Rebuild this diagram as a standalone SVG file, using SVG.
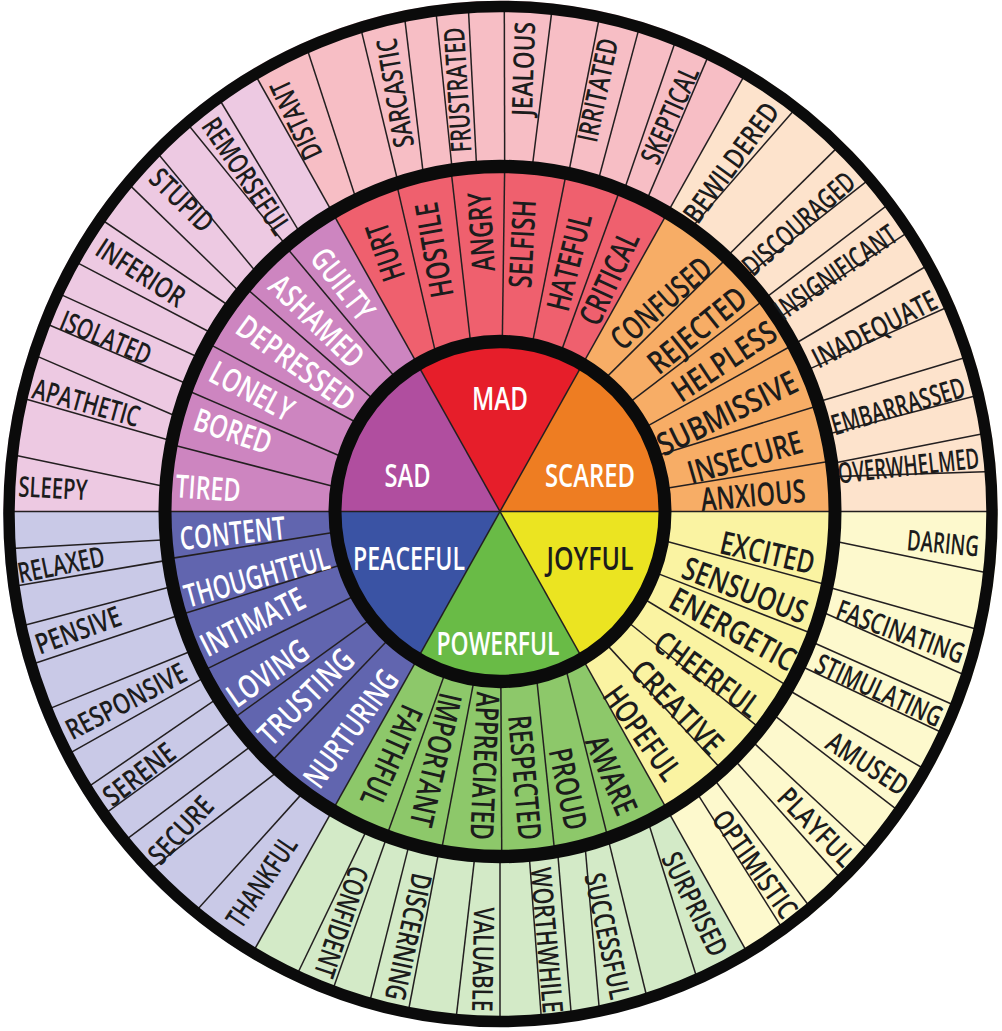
<svg xmlns="http://www.w3.org/2000/svg" width="1002" height="1031" viewBox="0 0 1002 1031">
<defs>
<style>
.ln{stroke:#231f20;stroke-width:1.5;fill:none}
.ring{fill:none;stroke:#0b0b0b}
text{font-family:"Open Sans","Noto Sans","DejaVu Sans Condensed",sans-serif;text-anchor:middle;fill:#1c1c1c;font-weight:600}
.c{font-size:33px}
.m{font-size:32px}
.o{font-size:28.5px}
.w{fill:#fff}
</style>
</defs>
<rect width="1002" height="1031" fill="#fff"/>
<g id="sectors" transform="translate(500 511.5) scale(1 1.03)">
<path d="M0,0 L500,0 A500,500 0 0 0 250,-433.01 Z" fill="#fde3cc"/>
<path d="M0,0 L250,-433.01 A500,500 0 0 0 -250,-433.01 Z" fill="#f7bec5"/>
<path d="M0,0 L-250,-433.01 A500,500 0 0 0 -500,0 Z" fill="#edc9e2"/>
<path d="M0,0 L-500,0 A500,500 0 0 0 -250,433.01 Z" fill="#c9c9e7"/>
<path d="M0,0 L-250,433.01 A500,500 0 0 0 250,433.01 Z" fill="#d3eac7"/>
<path d="M0,0 L250,433.01 A500,500 0 0 0 500,0 Z" fill="#fdf9cd"/>
<path d="M0,0 L335,0 A335,335 0 0 0 167.5,-290.11 Z" fill="#f7ad66"/>
<path d="M0,0 L167.5,-290.11 A335,335 0 0 0 -167.5,-290.11 Z" fill="#ef606e"/>
<path d="M0,0 L-167.5,-290.11 A335,335 0 0 0 -335,0 Z" fill="#cd85c0"/>
<path d="M0,0 L-335,0 A335,335 0 0 0 -167.5,290.11 Z" fill="#6165af"/>
<path d="M0,0 L-167.5,290.11 A335,335 0 0 0 167.5,290.11 Z" fill="#8dc86a"/>
<path d="M0,0 L167.5,290.11 A335,335 0 0 0 335,0 Z" fill="#faf3a2"/>
</g>
<g id="node-scared"><path transform="translate(500 511.5) scale(1 1.03)" d="M0,0 L165,0 A165,165 0 0 0 82.5,-142.89 Z" fill="#ee7d22"/><text class="c w" x="590" y="487" textLength="90" lengthAdjust="spacingAndGlyphs">SCARED</text></g>
<g id="node-mad"><path transform="translate(500 511.5) scale(1 1.03)" d="M0,0 L82.5,-142.89 A165,165 0 0 0 -82.5,-142.89 Z" fill="#e61e2a"/><text class="c w" x="500" y="410" textLength="56" lengthAdjust="spacingAndGlyphs">MAD</text></g>
<g id="node-sad"><path transform="translate(500 511.5) scale(1 1.03)" d="M0,0 L-82.5,-142.89 A165,165 0 0 0 -165,0 Z" fill="#b04e9f"/><text class="c w" x="407.5" y="487" textLength="46" lengthAdjust="spacingAndGlyphs">SAD</text></g>
<g id="node-peaceful"><path transform="translate(500 511.5) scale(1 1.03)" d="M0,0 L-165,0 A165,165 0 0 0 -82.5,142.89 Z" fill="#3a53a4"/><text class="c w" x="409" y="570" textLength="112" lengthAdjust="spacingAndGlyphs">PEACEFUL</text></g>
<g id="node-powerful"><path transform="translate(500 511.5) scale(1 1.03)" d="M0,0 L-82.5,142.89 A165,165 0 0 0 82.5,142.89 Z" fill="#69bb46"/><text class="c w" x="498" y="655" textLength="123" lengthAdjust="spacingAndGlyphs">POWERFUL</text></g>
<g id="node-joyful"><path transform="translate(500 511.5) scale(1 1.03)" d="M0,0 L82.5,142.89 A165,165 0 0 0 165,0 Z" fill="#ebe421"/><text class="c" x="590" y="570" textLength="87" lengthAdjust="spacingAndGlyphs">JOYFUL</text></g>
<g id="connectors" class="ln" transform="translate(500 511.5) scale(1 1.03)">
<line x1="-494" x2="494"/>
<line x1="-494" x2="494" transform="rotate(-60)"/>
<line x1="-494" x2="494" transform="rotate(-120)"/>
<line transform="rotate(-171.8)" x1="165" x2="334.5" y2="17.5"/>
<line transform="rotate(-161.5)" x1="165" x2="334.8" y2="12.3"/>
<line transform="rotate(-148.9)" x1="165" x2="334.8" y2="-11.1"/>
<line transform="rotate(-139.3)" x1="165" x2="335" y2="-1.2"/>
<line transform="rotate(-128.8)" x1="165" x2="334.9" y2="-5.8"/>
<line transform="rotate(-112.8)" x1="165" x2="333.8" y2="28"/>
<line transform="rotate(-100.2)" x1="165" x2="334.8" y2="10.5"/>
<line transform="rotate(-89.2)" x1="165" x2="335" y2="0"/>
<line transform="rotate(-78.8)" x1="165" x2="335" y2="1.2"/>
<line transform="rotate(-68.5)" x1="165" x2="335" y2="-2.9"/>
<line transform="rotate(-50.9)" x1="165" x2="334.3" y2="21"/>
<line transform="rotate(-39.3)" x1="165" x2="334.9" y2="8.2"/>
<line transform="rotate(-29.4)" x1="165" x2="335" y2="2.9"/>
<line transform="rotate(-19.1)" x1="165" x2="334.9" y2="7"/>
<line transform="rotate(-7.7)" x1="165" x2="335" y2="-4.1"/>
<line transform="rotate(9.7)" x1="165" x2="334.7" y2="15.2"/>
<line transform="rotate(20.9)" x1="165" x2="335" y2="-0.6"/>
<line transform="rotate(30.5)" x1="165" x2="335" y2="0"/>
<line transform="rotate(40)" x1="165" x2="334.9" y2="-5.8"/>
<line transform="rotate(50.5)" x1="165" x2="334.8" y2="-11.7"/>
<line transform="rotate(66.6)" x1="165" x2="333.9" y2="26.9"/>
<line transform="rotate(77.2)" x1="165" x2="334.4" y2="19.9"/>
<line transform="rotate(89.7)" x1="165" x2="335" y2="0"/>
<line transform="rotate(99)" x1="165" x2="334.9" y2="6.4"/>
<line transform="rotate(109.3)" x1="165" x2="335" y2="2.9"/>
<line transform="rotate(173.1)" x1="165" x2="334.9" y2="-5.8"/>
<line transform="rotate(161.9)" x1="165" x2="334.9" y2="4.1"/>
<line transform="rotate(150.6)" x1="165" x2="334.8" y2="11.1"/>
<line transform="rotate(141)" x1="165" x2="334.8" y2="11.7"/>
<line transform="rotate(131.9)" x1="165" x2="334.9" y2="8.2"/>
<line transform="rotate(-175.9)" x1="335" x2="493.6" y2="20.7"/>
<line transform="rotate(-168.2)" x1="335" x2="493.9" y2="10.3"/>
<line transform="rotate(-164.1)" x1="335" x2="493.6" y2="19"/>
<line transform="rotate(-158.4)" x1="335" x2="494" y2="2.6"/>
<line transform="rotate(-153.6)" x1="335" x2="494" y2="-6.9"/>
<line transform="rotate(-149)" x1="335" x2="493.9" y2="-11.2"/>
<line transform="rotate(-143.6)" x1="335" x2="493.9" y2="-8.6"/>
<line transform="rotate(-140.7)" x1="335" x2="493.9" y2="11.2"/>
<line transform="rotate(-136.4)" x1="335" x2="493.7" y2="16.4"/>
<line transform="rotate(-129.6)" x1="335" x2="494" y2="-0.9"/>
<line transform="rotate(-126.5)" x1="335" x2="493.8" y2="12.9"/>
<line transform="rotate(-115.4)" x1="335" x2="493.6" y2="19"/>
<line transform="rotate(-107.7)" x1="335" x2="493.9" y2="10.3"/>
<line transform="rotate(-103.2)" x1="335" x2="493.7" y2="17.2"/>
<line transform="rotate(-98.2)" x1="335" x2="494" y2="6"/>
<line transform="rotate(-94)" x1="335" x2="494" y2="2.6"/>
<line transform="rotate(-89.2)" x1="335" x2="494" y2="-2.6"/>
<line transform="rotate(-84.5)" x1="335" x2="494" y2="5.2"/>
<line transform="rotate(-78.2)" x1="335" x2="494" y2="-0.9"/>
<line transform="rotate(-73)" x1="335" x2="494" y2="-4.3"/>
<line transform="rotate(-68.3)" x1="335" x2="494" y2="-6"/>
<line transform="rotate(-64.1)" x1="335" x2="494" y2="-6"/>
<line transform="rotate(-55.2)" x1="335" x2="493.6" y2="19.8"/>
<line transform="rotate(-47.5)" x1="335" x2="493.9" y2="10.3"/>
<line transform="rotate(-42.9)" x1="335" x2="493.8" y2="15.5"/>
<line transform="rotate(-38)" x1="335" x2="494" y2="4.3"/>
<line transform="rotate(-34)" x1="335" x2="494" y2="3.4"/>
<line transform="rotate(-28.9)" x1="335" x2="494" y2="-2.6"/>
<line transform="rotate(-24.1)" x1="335" x2="494" y2="1.7"/>
<line transform="rotate(-18.5)" x1="335" x2="494" y2="6"/>
<line transform="rotate(-12.9)" x1="335" x2="494" y2="-3.4"/>
<line transform="rotate(-8)" x1="335" x2="493.9" y2="-7.8"/>
<line transform="rotate(-5.8)" x1="335" x2="493.9" y2="11.2"/>
<line transform="rotate(4.9)" x1="335" x2="493.7" y2="18.1"/>
<line transform="rotate(12.6)" x1="335" x2="493.9" y2="7.8"/>
<line transform="rotate(16.8)" x1="335" x2="493.7" y2="18.1"/>
<line transform="rotate(22.1)" x1="335" x2="494" y2="3.4"/>
<line transform="rotate(26.5)" x1="335" x2="494" y2="-5.2"/>
<line transform="rotate(31)" x1="335" x2="494" y2="-4.3"/>
<line transform="rotate(35.8)" x1="335" x2="494" y2="2.6"/>
<line transform="rotate(41.5)" x1="335" x2="494" y2="1.7"/>
<line transform="rotate(45.8)" x1="335" x2="494" y2="4.3"/>
<line transform="rotate(50.5)" x1="335" x2="494" y2="5.2"/>
<line transform="rotate(54.2)" x1="335" x2="493.9" y2="7.8"/>
<line transform="rotate(63.8)" x1="335" x2="493.5" y2="23.3"/>
<line transform="rotate(71.2)" x1="335" x2="493.8" y2="12.9"/>
<line transform="rotate(75.3)" x1="335" x2="493.3" y2="26.7"/>
<line transform="rotate(80.1)" x1="335" x2="493.8" y2="13.8"/>
<line transform="rotate(85)" x1="335" x2="494" y2="1.7"/>
<line transform="rotate(90)" x1="335" x2="494" y2="0"/>
<line transform="rotate(94.3)" x1="335" x2="494" y2="6.9"/>
<line transform="rotate(100.5)" x1="335" x2="494" y2="1.7"/>
<line transform="rotate(105.7)" x1="335" x2="494" y2="-3.4"/>
<line transform="rotate(109.7)" x1="335" x2="494" y2="0.9"/>
<line transform="rotate(113.3)" x1="335" x2="493.9" y2="8.6"/>
<line transform="rotate(125.8)" x1="335" x2="493.6" y2="19.8"/>
<line transform="rotate(131.3)" x1="335" x2="492.9" y2="33.6"/>
<line transform="rotate(137.5)" x1="335" x2="493.7" y2="18.1"/>
<line transform="rotate(142.7)" x1="335" x2="494" y2="6"/>
<line transform="rotate(147.3)" x1="335" x2="494" y2="-2.6"/>
<line transform="rotate(151.4)" x1="335" x2="494" y2="0"/>
<line transform="rotate(156.3)" x1="335" x2="494" y2="6"/>
<line transform="rotate(162.6)" x1="335" x2="494" y2="-1.7"/>
<line transform="rotate(167.5)" x1="335" x2="494" y2="-5.2"/>
<line transform="rotate(171.9)" x1="335" x2="494" y2="-3.4"/>
<line transform="rotate(175.3)" x1="335" x2="494" y2="4.3"/>
</g>
<path id="outside" fill="#fff" fill-rule="evenodd" d="M0,0 H1002 V1031 H0 Z M3.25,514 A497.25,513.25 0 1 0 997.75,514 A497.25,513.25 0 1 0 3.25,514 Z"/>
<g id="rings">
<ellipse class="ring" cx="500.5" cy="514" rx="491.5" ry="507.5" stroke-width="11.5"/>
<g transform="translate(500 511.5) scale(1 1.03)">
<circle class="ring" r="335" stroke-width="13"/>
<circle class="ring" r="165" stroke-width="13"/>
</g>
</g>
<g id="sad-words">
<g id="w-guilty"><text class="m w" transform="translate(343 284) rotate(52)" dy="0.36em" textLength="82" lengthAdjust="spacingAndGlyphs">GUILTY</text></g>
<g id="w-ashamed"><text class="m w" transform="translate(317 321) rotate(44)" dy="0.36em" textLength="118" lengthAdjust="spacingAndGlyphs">ASHAMED</text></g>
<g id="w-depressed"><text class="m w" transform="translate(296 363) rotate(36)" dy="0.36em" textLength="138" lengthAdjust="spacingAndGlyphs">DEPRESSED</text></g>
<g id="w-lonely"><text class="m w" transform="translate(252 391) rotate(28)" dy="0.36em" textLength="90" lengthAdjust="spacingAndGlyphs">LONELY</text></g>
<g id="w-bored"><text class="m w" transform="translate(233 431) rotate(18.5)" dy="0.36em" textLength="80" lengthAdjust="spacingAndGlyphs">BORED</text></g>
<g id="w-tired"><text class="m w" transform="translate(208 488) rotate(4)" dy="0.36em" textLength="65" lengthAdjust="spacingAndGlyphs">TIRED</text></g>
<g id="w-sleepy"><text class="o" transform="translate(53 488) rotate(3)" dy="0.36em" textLength="69" lengthAdjust="spacingAndGlyphs">SLEEPY</text></g>
<g id="w-apathetic"><text class="o" transform="translate(86.5 402.5) rotate(15.5)" dy="0.36em" textLength="110" lengthAdjust="spacingAndGlyphs">APATHETIC</text></g>
<g id="w-isolated"><text class="o" transform="translate(106 337.5) rotate(22.5)" dy="0.36em" textLength="96" lengthAdjust="spacingAndGlyphs">ISOLATED</text></g>
<g id="w-inferior"><text class="o" transform="translate(141 272.5) rotate(33)" dy="0.36em" textLength="100" lengthAdjust="spacingAndGlyphs">INFERIOR</text></g>
<g id="w-stupid"><text class="o" transform="translate(182 200) rotate(44.5)" dy="0.36em" textLength="77" lengthAdjust="spacingAndGlyphs">STUPID</text></g>
<g id="w-remorseful"><text class="o" transform="translate(246.5 176) rotate(56)" dy="0.36em" textLength="134" lengthAdjust="spacingAndGlyphs">REMORSEFUL</text></g>
</g>
<g id="mad-words">
<g id="w-hurt"><text class="m" transform="translate(385 252) rotate(-109)" dy="0.36em" textLength="59" lengthAdjust="spacingAndGlyphs">HURT</text></g>
<g id="w-hostile"><text class="m" transform="translate(434 250) rotate(-100)" dy="0.36em" textLength="96" lengthAdjust="spacingAndGlyphs">HOSTILE</text></g>
<g id="w-angry"><text class="m" transform="translate(481 232) rotate(-93.6)" dy="0.36em" textLength="79" lengthAdjust="spacingAndGlyphs">ANGRY</text></g>
<g id="w-selfish"><text class="m" transform="translate(522 244) rotate(-87)" dy="0.36em" textLength="88" lengthAdjust="spacingAndGlyphs">SELFISH</text></g>
<g id="w-hateful"><text class="m" transform="translate(569 262) rotate(-76)" dy="0.36em" textLength="99" lengthAdjust="spacingAndGlyphs">HATEFUL</text></g>
<g id="w-critical"><text class="m" transform="translate(609 278) rotate(-65)" dy="0.36em" textLength="99" lengthAdjust="spacingAndGlyphs">CRITICAL</text></g>
<g id="w-distant"><text class="o" transform="translate(296 120) rotate(-115)" dy="0.36em" textLength="84" lengthAdjust="spacingAndGlyphs">DISTANT</text></g>
<g id="w-sarcastic"><text class="o" transform="translate(395 93) rotate(-99.5)" dy="0.36em" textLength="110" lengthAdjust="spacingAndGlyphs">SARCASTIC</text></g>
<g id="w-frustrated"><text class="o" transform="translate(457.5 90) rotate(-93.5)" dy="0.36em" textLength="125" lengthAdjust="spacingAndGlyphs">FRUSTRATED</text></g>
<g id="w-jealous"><text class="o" transform="translate(523.3 69) rotate(-88)" dy="0.36em" textLength="94" lengthAdjust="spacingAndGlyphs">JEALOUS</text></g>
<g id="w-irritated"><text class="o" transform="translate(597.5 90) rotate(-78)" dy="0.36em" textLength="105" lengthAdjust="spacingAndGlyphs">IRRITATED</text></g>
<g id="w-skeptical"><text class="o" transform="translate(669.5 115) rotate(-66)" dy="0.36em" textLength="103" lengthAdjust="spacingAndGlyphs">SKEPTICAL</text></g>
</g>
<g id="scared-words">
<g id="w-confused"><text class="m" transform="translate(661 303) rotate(-41)" dy="0.36em" textLength="122" lengthAdjust="spacingAndGlyphs">CONFUSED</text></g>
<g id="w-rejected"><text class="m" transform="translate(697 330) rotate(-39)" dy="0.36em" textLength="117" lengthAdjust="spacingAndGlyphs">REJECTED</text></g>
<g id="w-helpless"><text class="m" transform="translate(724 361) rotate(-33.6)" dy="0.36em" textLength="118" lengthAdjust="spacingAndGlyphs">HELPLESS</text></g>
<g id="w-submissive"><text class="m" transform="translate(727 413) rotate(-26)" dy="0.36em" textLength="152" lengthAdjust="spacingAndGlyphs">SUBMISSIVE</text></g>
<g id="w-insecure"><text class="m" transform="translate(745 457) rotate(-16)" dy="0.36em" textLength="118" lengthAdjust="spacingAndGlyphs">INSECURE</text></g>
<g id="w-anxious"><text class="m" transform="translate(753 495) rotate(-5)" dy="0.36em" textLength="105" lengthAdjust="spacingAndGlyphs">ANXIOUS</text></g>
<g id="w-bewildered"><text class="o" transform="translate(731 162.5) rotate(-54)" dy="0.36em" textLength="141" lengthAdjust="spacingAndGlyphs">BEWILDERED</text></g>
<g id="w-discouraged"><text class="o" transform="translate(798.5 223.5) rotate(-41.5)" dy="0.36em" textLength="140" lengthAdjust="spacingAndGlyphs">DISCOURAGED</text></g>
<g id="w-insignificant"><text class="o" transform="translate(835.5 272) rotate(-35)" dy="0.36em" textLength="142" lengthAdjust="spacingAndGlyphs">INSIGNIFICANT</text></g>
<g id="w-inadequate"><text class="o" transform="translate(874.5 329) rotate(-27)" dy="0.36em" textLength="136" lengthAdjust="spacingAndGlyphs">INADEQUATE</text></g>
<g id="w-embarrassed"><text class="o" transform="translate(898 406) rotate(-16.5)" dy="0.36em" textLength="138" lengthAdjust="spacingAndGlyphs">EMBARRASSED</text></g>
<g id="w-overwhelmed"><text class="o" transform="translate(908.5 465.5) rotate(-6.3)" dy="0.36em" textLength="142" lengthAdjust="spacingAndGlyphs">OVERWHELMED</text></g>
</g>
<g id="joyful-words">
<g id="w-excited"><text class="m" transform="translate(767.5 552.5) rotate(13)" dy="0.36em" textLength="96" lengthAdjust="spacingAndGlyphs">EXCITED</text></g>
<g id="w-sensuous"><text class="m" transform="translate(745 590) rotate(21)" dy="0.36em" textLength="131" lengthAdjust="spacingAndGlyphs">SENSUOUS</text></g>
<g id="w-energetic"><text class="m" transform="translate(733 629) rotate(28.5)" dy="0.36em" textLength="138" lengthAdjust="spacingAndGlyphs">ENERGETIC</text></g>
<g id="w-cheerful"><text class="m" transform="translate(707.5 674) rotate(36)" dy="0.36em" textLength="122" lengthAdjust="spacingAndGlyphs">CHEERFUL</text></g>
<g id="w-creative"><text class="m" transform="translate(677.5 707) rotate(46)" dy="0.36em" textLength="117" lengthAdjust="spacingAndGlyphs">CREATIVE</text></g>
<g id="w-hopeful"><text class="m" transform="translate(642.5 733) rotate(54)" dy="0.36em" textLength="108" lengthAdjust="spacingAndGlyphs">HOPEFUL</text></g>
<g id="w-daring"><text class="o" transform="translate(943 543) rotate(5)" dy="0.36em" textLength="72" lengthAdjust="spacingAndGlyphs">DARING</text></g>
<g id="w-fascinating"><text class="o" transform="translate(900.5 631.5) rotate(20)" dy="0.36em" textLength="134" lengthAdjust="spacingAndGlyphs">FASCINATING</text></g>
<g id="w-stimulating"><text class="o" transform="translate(879 690) rotate(24.5)" dy="0.36em" textLength="136" lengthAdjust="spacingAndGlyphs">STIMULATING</text></g>
<g id="w-amused"><text class="o" transform="translate(867.5 763.5) rotate(33)" dy="0.36em" textLength="91" lengthAdjust="spacingAndGlyphs">AMUSED</text></g>
<g id="w-playful"><text class="o" transform="translate(816.5 827) rotate(46)" dy="0.36em" textLength="97" lengthAdjust="spacingAndGlyphs">PLAYFUL</text></g>
<g id="w-optimistic"><text class="o" transform="translate(755 864) rotate(54.6)" dy="0.36em" textLength="125" lengthAdjust="spacingAndGlyphs">OPTIMISTIC</text></g>
</g>
<g id="powerful-words">
<g id="w-aware"><text class="m" transform="translate(611.7 775) rotate(66.5)" dy="0.36em" textLength="83" lengthAdjust="spacingAndGlyphs">AWARE</text></g>
<g id="w-proud"><text class="m" transform="translate(568.3 789) rotate(78)" dy="0.36em" textLength="83" lengthAdjust="spacingAndGlyphs">PROUD</text></g>
<g id="w-respected"><text class="m" transform="translate(525 777.5) rotate(85)" dy="0.36em" textLength="125" lengthAdjust="spacingAndGlyphs">RESPECTED</text></g>
<g id="w-appreciated"><text class="m" transform="translate(485 766) rotate(92.5)" dy="0.36em" textLength="148" lengthAdjust="spacingAndGlyphs">APPRECIATED</text></g>
<g id="w-important"><text class="m" transform="translate(436 760) rotate(103)" dy="0.36em" textLength="136" lengthAdjust="spacingAndGlyphs">IMPORTANT</text></g>
<g id="w-faithful"><text class="m" transform="translate(391.7 756) rotate(114)" dy="0.36em" textLength="107" lengthAdjust="spacingAndGlyphs">FAITHFUL</text></g>
<g id="w-surprised"><text class="o" transform="translate(695 904) rotate(63.5)" dy="0.36em" textLength="112" lengthAdjust="spacingAndGlyphs">SURPRISED</text></g>
<g id="w-successful"><text class="o" transform="translate(607.5 936) rotate(78)" dy="0.36em" textLength="128" lengthAdjust="spacingAndGlyphs">SUCCESSFUL</text></g>
<g id="w-worthwhile"><text class="o" transform="translate(547 940) rotate(85)" dy="0.36em" textLength="146" lengthAdjust="spacingAndGlyphs">WORTHWHILE</text></g>
<g id="w-valuable"><text class="o" transform="translate(483.3 959.5) rotate(91)" dy="0.36em" textLength="104" lengthAdjust="spacingAndGlyphs">VALUABLE</text></g>
<g id="w-discerning"><text class="o" transform="translate(408.5 937) rotate(102.5)" dy="0.36em" textLength="129" lengthAdjust="spacingAndGlyphs">DISCERNING</text></g>
<g id="w-confident"><text class="o" transform="translate(341.5 922) rotate(108.5)" dy="0.36em" textLength="115" lengthAdjust="spacingAndGlyphs">CONFIDENT</text></g>
</g>
<g id="peaceful-words">
<g id="w-content"><text class="m w" transform="translate(232.5 533) rotate(-6)" dy="0.36em" textLength="106" lengthAdjust="spacingAndGlyphs">CONTENT</text></g>
<g id="w-thoughtful"><text class="m w" transform="translate(256.7 576.7) rotate(-15.5)" dy="0.36em" textLength="149" lengthAdjust="spacingAndGlyphs">THOUGHTFUL</text></g>
<g id="w-intimate"><text class="m w" transform="translate(252.5 621.7) rotate(-27)" dy="0.36em" textLength="113" lengthAdjust="spacingAndGlyphs">INTIMATE</text></g>
<g id="w-loving"><text class="m w" transform="translate(267.5 673) rotate(-35)" dy="0.36em" textLength="92" lengthAdjust="spacingAndGlyphs">LOVING</text></g>
<g id="w-trusting"><text class="m w" transform="translate(305.8 696.7) rotate(-45)" dy="0.36em" textLength="121" lengthAdjust="spacingAndGlyphs">TRUSTING</text></g>
<g id="w-nurturing"><text class="m w" transform="translate(350.8 728.3) rotate(-54)" dy="0.36em" textLength="137" lengthAdjust="spacingAndGlyphs">NURTURING</text></g>
<g id="w-thankful"><text class="o" transform="translate(261.5 881.5) rotate(-56)" dy="0.36em" textLength="103" lengthAdjust="spacingAndGlyphs">THANKFUL</text></g>
<g id="w-secure"><text class="o" transform="translate(180.5 830) rotate(-47)" dy="0.36em" textLength="81" lengthAdjust="spacingAndGlyphs">SECURE</text></g>
<g id="w-serene"><text class="o" transform="translate(139 774) rotate(-37.8)" dy="0.36em" textLength="83" lengthAdjust="spacingAndGlyphs">SERENE</text></g>
<g id="w-responsive"><text class="o" transform="translate(126 701) rotate(-27.5)" dy="0.36em" textLength="132" lengthAdjust="spacingAndGlyphs">RESPONSIVE</text></g>
<g id="w-pensive"><text class="o" transform="translate(78 630) rotate(-20)" dy="0.36em" textLength="89" lengthAdjust="spacingAndGlyphs">PENSIVE</text></g>
<g id="w-relaxed"><text class="o" transform="translate(61 564.5) rotate(-11.5)" dy="0.36em" textLength="88" lengthAdjust="spacingAndGlyphs">RELAXED</text></g>
</g>
</svg>
